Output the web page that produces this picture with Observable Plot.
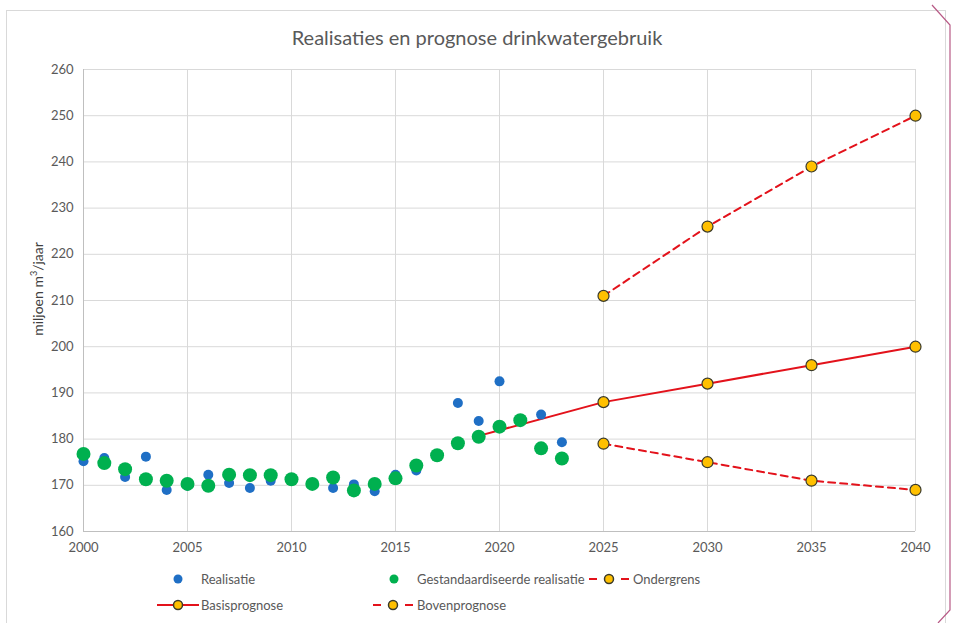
<!DOCTYPE html>
<html><head><meta charset="utf-8">
<script src="https://cdn.jsdelivr.net/npm/d3@7"></script>
<script src="https://cdn.jsdelivr.net/npm/@observablehq/plot@0.6"></script>
<style>
body{margin:0;background:#fff;font-family:Lato,"Open Sans",sans-serif;}
#wrap{position:relative;width:955px;height:623px;overflow:hidden;background:#fff;}
#frame{position:absolute;left:6px;top:10px;width:940px;height:640px;border:1px solid #d9d9d9;box-sizing:border-box;}
#title{position:absolute;left:0;width:954px;top:25px;text-align:center;font-size:20px;color:#595959;}
#chart{position:absolute;left:0;top:0;}
#ylabel{position:absolute;left:37px;top:289px;transform:translate(-50%,-50%) rotate(-90deg);font-size:14px;color:#404040;white-space:nowrap;}
.leg{position:absolute;display:flex;align-items:center;font-size:13px;color:#595959;white-space:nowrap;height:14px;}
.leg svg{margin-right:2px;}
#deco{position:absolute;left:0;top:0;}
</style></head><body>
<div id="wrap">
 <div id="frame"></div>
 <div id="title">Realisaties en prognose drinkwatergebruik</div>
 <div id="chart"></div>
 <div id="ylabel">miljoen m<sup style="font-size:9px">3</sup>/jaar</div>
 <div id="legend"></div>
 <svg id="deco" width="955" height="623">
  <path d="M932,5 L950,25 L950,610 L938,623" fill="none" stroke="#b85a86" stroke-width="1.2"/>
 </svg>
</div>
<script>
const years = [2000,2001,2002,2003,2004,2005,2006,2007,2008,2009,2010,2011,2012,2013,2014,2015,2016,2017,2018,2019,2020,2021,2022,2023];
const realisatie = [175.2,175.9,171.8,176.2,169.0,169.9,172.3,170.5,169.4,171.0,171.3,170.2,169.4,170.2,168.7,172.3,173.2,176.5,187.8,183.9,192.5,184.1,185.3,179.3];
const gestandaardiseerd = [176.8,174.8,173.5,171.3,171.0,170.3,169.9,172.3,172.2,172.2,171.3,170.3,171.7,168.9,170.3,171.5,174.3,176.5,179.1,180.5,182.7,184.1,178.0,175.8];
const basisYears = [2019,2025,2030,2035,2040];
const basis = [180.7,188,192,196,200];
const prognoseYears = [2025,2030,2035,2040];
const boven = [211,226,239,250];
const onder = [179,175,171,169];
const xTicks = [2000,2005,2010,2015,2020,2025,2030,2035,2040];
const yTicks = [160,170,180,190,200,210,220,230,240,250,260];

const blue = "#1f6fc5", green = "#00b04f", red = "#e3121b", yellow = "#ffc000", mk = "#3a3a2a";

const real = years.map((x,i)=>({x, y: realisatie[i]}));
const gest = years.map((x,i)=>({x, y: gestandaardiseerd[i]}));
const bas = basisYears.map((x,i)=>({x, y: basis[i]}));
const basM = bas.filter(d=>d.x>=2025);
const bov = prognoseYears.map((x,i)=>({x, y: boven[i]}));
const ond = prognoseYears.map((x,i)=>({x, y: onder[i]}));

const chart = Plot.plot({
  width: 955, height: 560,
  marginLeft: 83, marginRight: 40, marginTop: 69, marginBottom: 29,
  style: {fontFamily: "Lato, 'Open Sans', sans-serif", fontSize: "13px", color: "#595959", background: "transparent"},
  x: {domain: [2000, 2040], ticks: xTicks, tickFormat: d => String(d), tickSize: 0, tickPadding: 11, label: null},
  y: {domain: [160, 260], ticks: yTicks, tickSize: 0, tickPadding: 10, label: null},
  marks: [
    Plot.gridX(xTicks, {stroke: "#d9d9d9", strokeOpacity: 1}),
    Plot.gridY(yTicks, {stroke: "#d9d9d9", strokeOpacity: 1}),
    Plot.ruleY([160], {stroke: "#bfbfbf"}),
    Plot.ruleX([2000], {stroke: "#bfbfbf"}),
    Plot.line(bas, {x: "x", y: "y", stroke: red, strokeWidth: 2}),
    Plot.line(bov, {x: "x", y: "y", stroke: red, strokeWidth: 2, strokeDasharray: "7,5"}),
    Plot.line(ond, {x: "x", y: "y", stroke: red, strokeWidth: 2, strokeDasharray: "7,5"}),
    Plot.dot(real, {x: "x", y: "y", r: 5, fill: blue}),
    Plot.dot(gest, {x: "x", y: "y", r: 7, fill: green}),
    Plot.dot(basM, {x: "x", y: "y", r: 5.5, fill: yellow, stroke: mk, strokeWidth: 1.2}),
    Plot.dot(bov, {x: "x", y: "y", r: 5.5, fill: yellow, stroke: mk, strokeWidth: 1.2}),
    Plot.dot(ond, {x: "x", y: "y", r: 5.5, fill: yellow, stroke: mk, strokeWidth: 1.2}),
    Plot.axisX({ticks: xTicks, tickFormat: d => String(d), tickSize: 0, tickPadding: 11, label: null}),
    Plot.axisY({ticks: yTicks, tickSize: 0, tickPadding: 10, label: null})
  ]
});
document.getElementById("chart").appendChild(chart);

const legendItems = [
  {label: "Realisatie", kind: "dot", color: blue, col: 157, row: 579},
  {label: "Gestandaardiseerde realisatie", kind: "dot", color: green, col: 373, row: 579},
  {label: "Ondergrens", kind: "dash", col: 589, row: 579},
  {label: "Basisprognose", kind: "solid", col: 157, row: 605},
  {label: "Bovenprognose", kind: "dash", col: 373, row: 605}
];
const leg = document.getElementById("legend");
for (const it of legendItems) {
  const div = document.createElement("div");
  div.className = "leg";
  div.style.left = it.col + "px";
  div.style.top = (it.row - 7) + "px";
  let sym = "";
  if (it.kind === "dot") sym = `<circle cx="21" cy="7" r="4.5" fill="${it.color}"/>`;
  else if (it.kind === "solid") sym = `<line x1="0" x2="42" y1="7" y2="7" stroke="${red}" stroke-width="2"/><circle cx="21" cy="7" r="4.5" fill="${yellow}" stroke="${mk}" stroke-width="1.5"/>`;
  else sym = `<line x1="0" x2="8" y1="7" y2="7" stroke="${red}" stroke-width="2"/><line x1="32" x2="40" y1="7" y2="7" stroke="${red}" stroke-width="2"/><circle cx="20" cy="7" r="4.5" fill="${yellow}" stroke="${mk}" stroke-width="1.5"/>`;
  div.innerHTML = `<svg width="42" height="14">${sym}</svg><span>${it.label}</span>`;
  leg.appendChild(div);
}
</script>
</body></html>
